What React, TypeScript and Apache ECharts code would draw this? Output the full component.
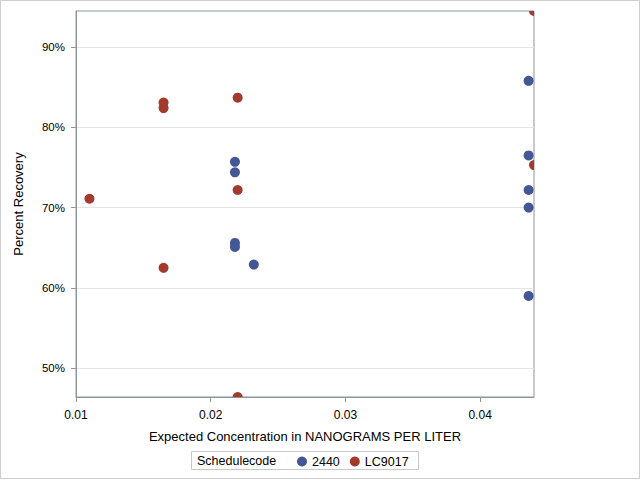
import React, { useEffect, useRef } from "react";
import * as echarts from "echarts";

const blueX = [0.0218, 0.0218, 0.0218, 0.0218, 0.0232, 0.0436, 0.0436, 0.0436, 0.0436, 0.0436];
const blueY = [75.7, 74.4, 65.6, 65.1, 62.9, 85.8, 76.5, 72.2, 70.0, 59.0];
const redX = [0.011, 0.0165, 0.0165, 0.0165, 0.022, 0.022, 0.022, 0.044, 0.044];
const redY = [71.1, 83.1, 82.4, 62.5, 83.7, 72.2, 46.4, 94.5, 75.3];
const xTicks = [0.01, 0.02, 0.03, 0.04];
const yTicks = [50, 60, 70, 80, 90];
const seriesNames = ["2440", "LC9017"];
const colors = ["#445694", "#A23A2E"];

const FONT = "'Liberation Sans', Arial, sans-serif";
const AXIS = "#8e959b";

function makeSeries(name: string, xs: number[], ys: number[], color: string) {
  return {
    name,
    type: "custom",
    clip: true,
    itemStyle: { color },
    encode: { x: 0, y: 1 },
    data: xs.map((x, i) => [x, ys[i]]),
    renderItem: (params: any, api: any) => {
      const p = api.coord([api.value(0), api.value(1)]);
      return {
        type: "circle",
        shape: { cx: p[0], cy: p[1], r: 5 },
        style: { fill: color },
      };
    },
  };
}

export default function App() {
  const ref = useRef<HTMLDivElement>(null);
  useEffect(() => {
    document.body.style.margin = "0";
    const chart = echarts.init(ref.current!, null, { renderer: "svg" });
    chart.setOption({
      animation: false,
      backgroundColor: "#fff",
      textStyle: { fontFamily: FONT },
      grid: {
        left: 76,
        top: 11,
        width: 458,
        height: 386,
        show: true,
        borderColor: AXIS,
        borderWidth: 1,
      },
      xAxis: {
        type: "value",
        min: 0.01,
        max: 0.044,
        name: "Expected Concentration in NANOGRAMS PER LITER",
        nameLocation: "middle",
        nameGap: 33,
        nameTextStyle: { fontFamily: FONT, fontSize: 13, color: "#000" },
        axisLine: { lineStyle: { color: AXIS } },
        axisTick: { show: true, length: 5, lineStyle: { color: AXIS }, customValues: xTicks },
        axisLabel: {
          customValues: xTicks,
          formatter: (v: number) => v.toFixed(2),
          fontFamily: FONT,
          fontSize: 12,
          color: "#000",
          margin: 12,
        },
        splitLine: { show: false },
      },
      yAxis: {
        type: "value",
        min: (v: any) => v.min,
        max: (v: any) => v.max,
        name: "Percent Recovery",
        nameLocation: "middle",
        nameGap: 51,
        nameTextStyle: { fontFamily: FONT, fontSize: 13, color: "#000" },
        axisLine: { show: true, lineStyle: { color: AXIS } },
        axisTick: { show: true, length: 5, lineStyle: { color: AXIS }, customValues: yTicks },
        axisLabel: {
          customValues: yTicks,
          formatter: (v: number) => `${Math.round(v)}%`,
          fontFamily: FONT,
          fontSize: 11.5,
          color: "#000",
          margin: 11,
        },
        splitLine: { show: true, lineStyle: { color: "#e4e4e4" } },
      },
      legend: {
        data: seriesNames.map((n) => ({ name: n, icon: "circle" })),
        left: 297,
        top: 455,
        padding: 0,
        itemWidth: 10,
        itemHeight: 10,
        itemGap: 10,
        selectedMode: false,
        textStyle: { fontFamily: FONT, fontSize: 12.5, color: "#000" },
      },
      graphic: [
        {
          type: "rect",
          shape: { x: 0.5, y: 0.5, width: 639, height: 478 },
          style: { fill: "none", stroke: "#cfcfcf", lineWidth: 1 },
          silent: true,
        },
        {
          type: "rect",
          shape: { x: 191.5, y: 451.5, width: 227, height: 18 },
          style: { fill: "none", stroke: "#c8c8c8", lineWidth: 1 },
          silent: true,
        },
        {
          type: "text",
          x: 197,
          y: 460.5,
          style: {
            text: "Schedulecode",
            fontFamily: FONT,
            fontSize: 12.5,
            fill: "#000",
            verticalAlign: "middle",
          },
          silent: true,
        },
      ],
      series: [
        makeSeries(seriesNames[0], blueX, blueY, colors[0]),
        makeSeries(seriesNames[1], redX, redY, colors[1]),
      ],
    });
    return () => chart.dispose();
  }, []);
  return <div ref={ref} style={{ width: 640, height: 480 }} />;
}
